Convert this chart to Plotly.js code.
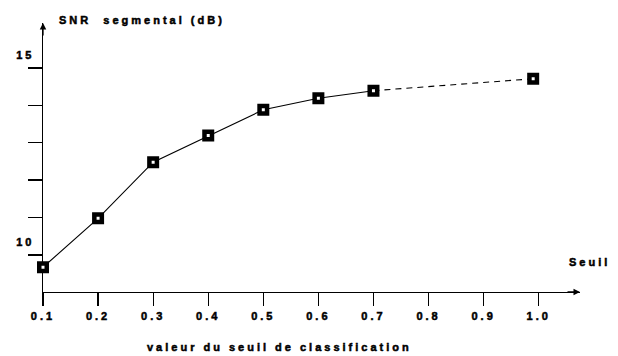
<!DOCTYPE html>
<html>
<head>
<meta charset="utf-8">
<script src="https://cdn.plot.ly/plotly-3.0.1.min.js"></script>
<style>html,body{margin:0;padding:0;background:#fff;}</style>
</head>
<body>
<div id="chart" style="width:618px;height:356px;"></div>
<script>
// Data
var seuil = [0.1, 0.2, 0.3, 0.4, 0.5, 0.6, 0.7, 0.99];
var snr   = [9.67, 10.98, 12.48, 13.19, 13.88, 14.19, 14.39, 14.71];
var xTickVals = [0.1, 0.2, 0.3, 0.4, 0.5, 0.6, 0.7, 0.8, 0.9, 1.0];
var xTickText = ["0.1", "0.2", "0.3", "0.4", "0.5", "0.6", "0.7", "0.8", "0.9", "1.0"];
var yTickVals = [10, 11, 12, 13, 14, 15];
var yTickText = ["10", "", "", "", "", "15"];
var yTitle = "SNR&nbsp;&nbsp;segmental (dB)";
var xTitle = "valeur du seuil de classification";
var xName = "Seuil";

var LS = "letter-spacing:3px;stroke:#000;stroke-width:0.5px";
function sp(t) { return t === "" ? "" : "<b><span style='" + LS + "'>" + t + "</span></b>"; }

var FONT = {family: "Liberation Sans, Arial, sans-serif", size: 11, color: "#000"};

var solid = {
  x: seuil.slice(0, 7), y: snr.slice(0, 7),
  mode: "lines", type: "scatter",
  line: {color: "#000", width: 1.1},
  cliponaxis: false, hoverinfo: "skip"
};
var dashed = {
  x: seuil.slice(6), y: snr.slice(6),
  mode: "lines", type: "scatter",
  line: {color: "#000", width: 1.1, dash: "6px,5px"},
  cliponaxis: false, hoverinfo: "skip"
};
var pts = {
  x: seuil, y: snr,
  mode: "markers", type: "scatter",
  marker: {symbol: "square", size: 7.5, color: "#fff", line: {color: "#000", width: 4.5}},
  cliponaxis: false, hoverinfo: "skip"
};

var layout = {
  width: 618, height: 356,
  margin: {l: 43, r: 38, t: 23, b: 64},
  paper_bgcolor: "#fff", plot_bgcolor: "#fff",
  showlegend: false,
  font: FONT,
  xaxis: {
    range: [0.1, 1.075],
    tickmode: "array", tickvals: xTickVals, ticktext: xTickText.map(sp),
    ticks: "outside", ticklen: 13, tickwidth: 1.3, tickcolor: "#000",
    showline: true, linecolor: "#000", linewidth: 1.3,
    showgrid: false, zeroline: false, layer: "below traces",
    tickfont: FONT
  },
  yaxis: {
    range: [9.01, 16.2],
    tickmode: "array", tickvals: yTickVals, ticktext: yTickText.map(sp),
    ticks: "outside", ticklen: 14, tickwidth: 1.3, tickcolor: "#000",
    showline: true, linecolor: "#000", linewidth: 1.3,
    showgrid: false, zeroline: false, layer: "below traces",
    ticklabelshift: -13, ticklabelstandoff: -9,
    tickfont: FONT
  },
  annotations: [
    {xref: "x", yref: "y", x: 1.075, y: 9.01, ax: -14, ay: 0, text: "",
     showarrow: true, arrowhead: 2, arrowsize: 1, arrowwidth: 1.3, arrowcolor: "#000"},
    {xref: "x", yref: "y", x: 0.1, y: 16.2, ax: 0, ay: 14, text: "",
     showarrow: true, arrowhead: 2, arrowsize: 1, arrowwidth: 1.3, arrowcolor: "#000"},
    {xref: "paper", yref: "paper", x: 0.026, y: 1, yshift: 3, xanchor: "left", yanchor: "middle",
     text: sp(yTitle), showarrow: false, font: FONT},
    {xref: "paper", yref: "paper", x: 0.976, y: 0.1115, xanchor: "left", yanchor: "middle",
     text: sp(xName), showarrow: false, font: FONT},
    {xref: "paper", yref: "paper", x: 0.4395, y: -0.2045, xanchor: "center", yanchor: "middle",
     text: sp(xTitle), showarrow: false, font: FONT}
  ]
};

Plotly.newPlot("chart", [solid, dashed, pts], layout, {staticPlot: true, displayModeBar: false});
</script>
</body>
</html>
